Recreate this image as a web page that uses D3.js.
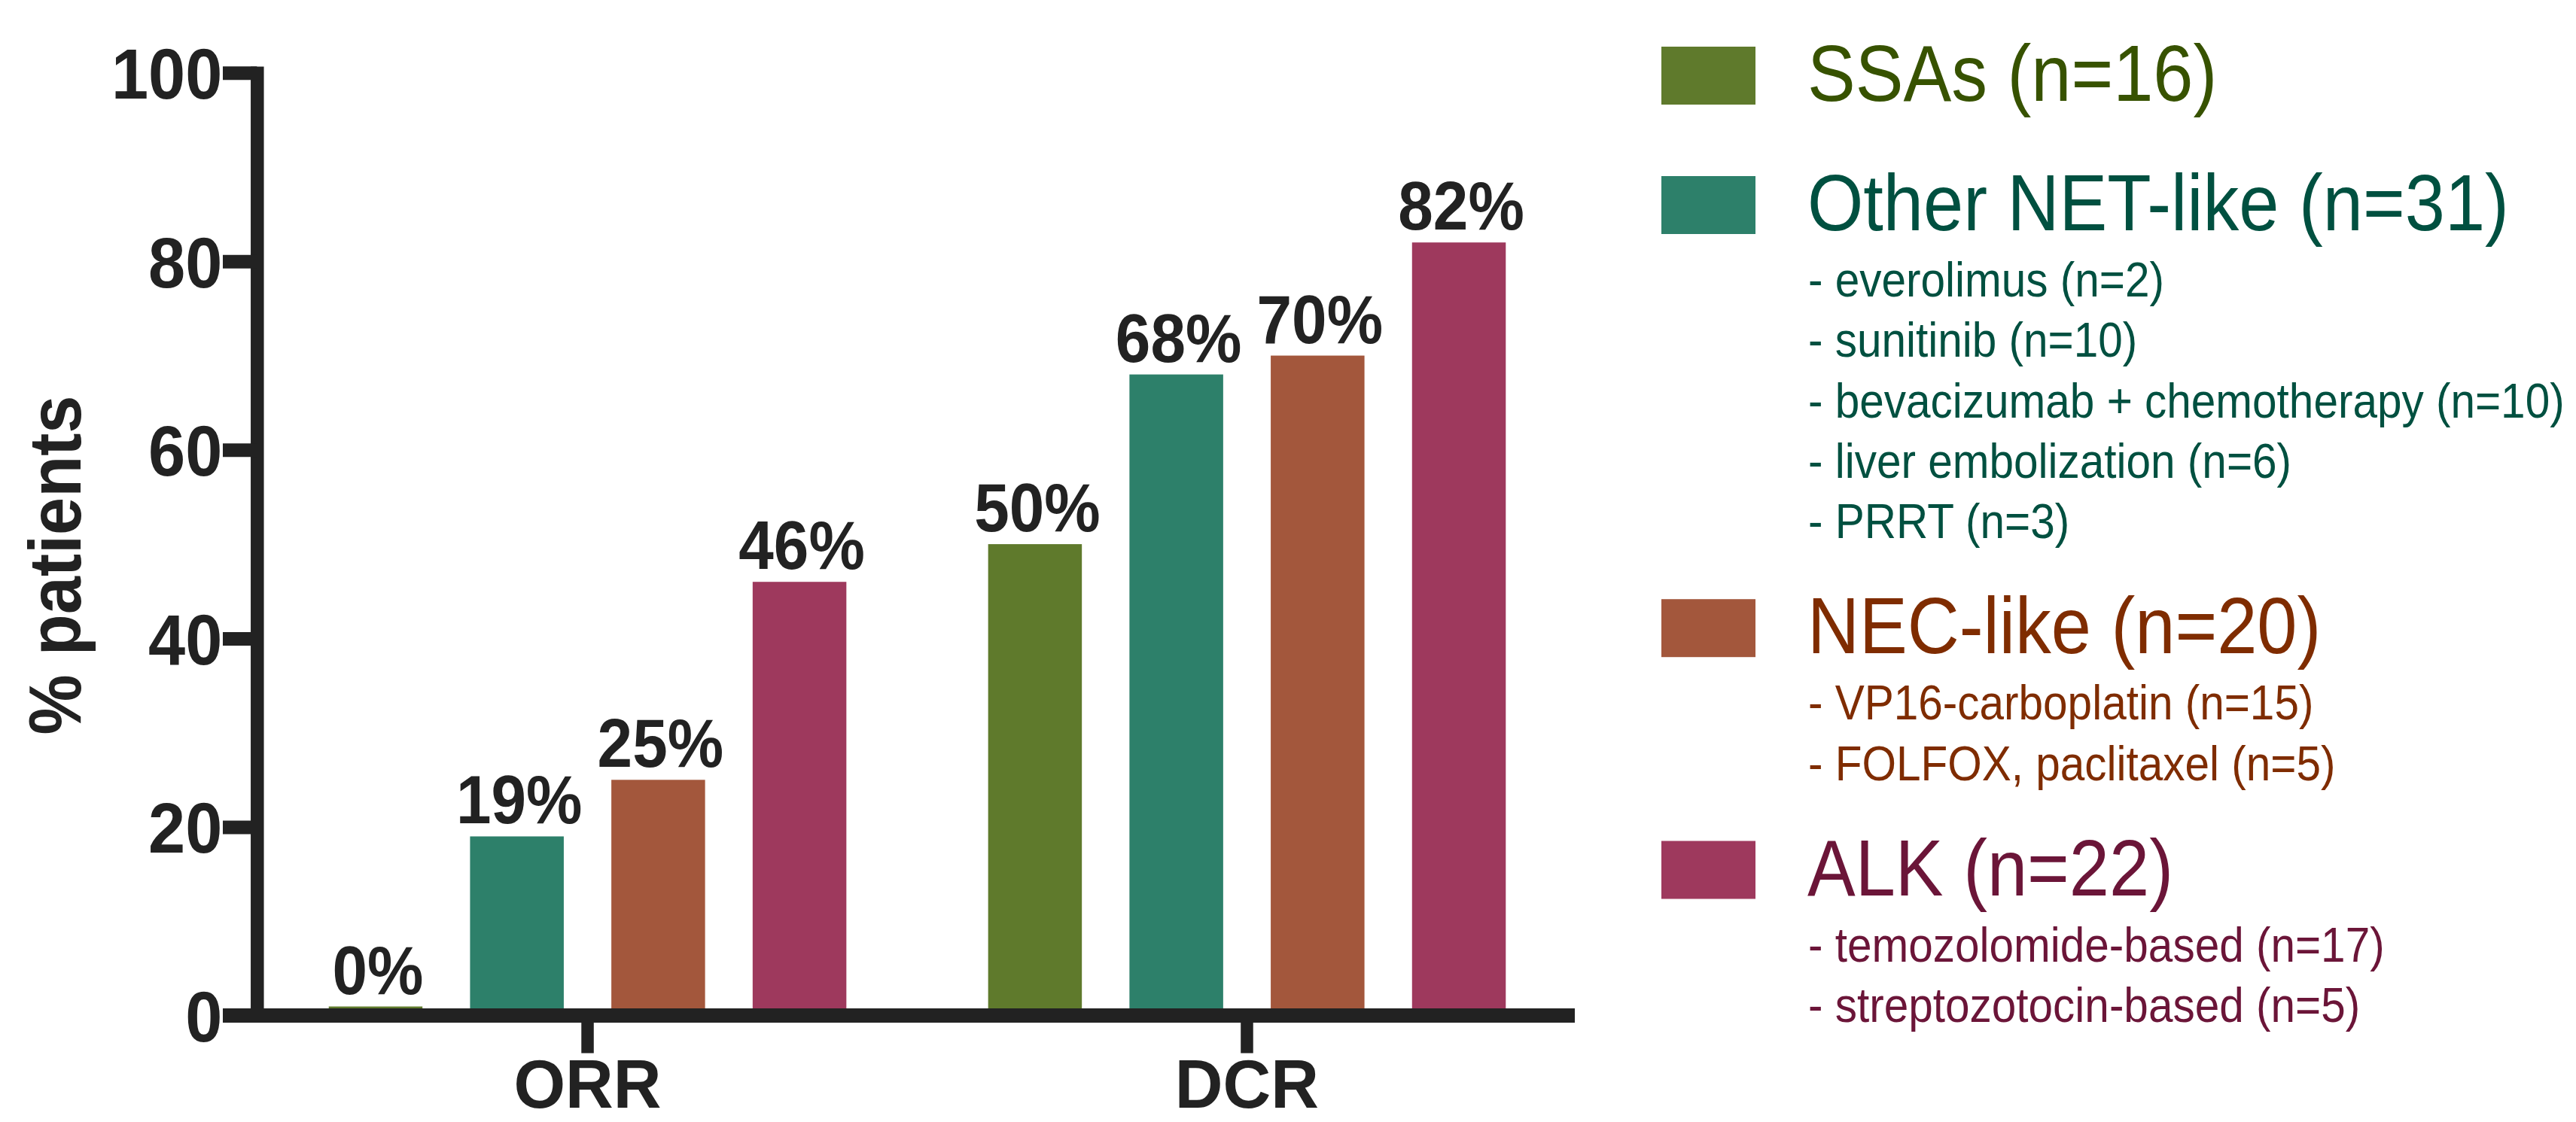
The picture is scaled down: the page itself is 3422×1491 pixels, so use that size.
<!DOCTYPE html>
<html>
<head>
<meta charset="utf-8">
<script src="https://cdn.jsdelivr.net/npm/d3@7"></script>
<style>
  html, body { margin: 0; padding: 0; background: #ffffff; }
  svg { display: block; }
  text { font-family: "Liberation Sans", Arial, Helvetica, sans-serif; }
</style>
</head>
<body>
<svg id="chart" width="3422" height="1491"></svg>
<script>
// ---------------- data ----------------
const categories = ["ORR", "DCR"];
const series = ["SSAs", "Other NET-like", "NEC-like", "ALK"];
const orrValues = [0, 19, 25, 46];
const dcrValues = [50, 68, 70, 82];
const yTicks = [0, 20, 40, 60, 80, 100];
const yLabel = "% patients";
const legendLabels = ["SSAs (n=16)", "Other NET-like (n=31)", "NEC-like (n=20)", "ALK (n=22)"];
const legendSubs = [
  [],
  ["- everolimus (n=2)", "- sunitinib (n=10)", "- bevacizumab + chemotherapy (n=10)", "- liver embolization (n=6)", "- PRRT (n=3)"],
  ["- VP16-carboplatin (n=15)", "- FOLFOX, paclitaxel (n=5)"],
  ["- temozolomide-based (n=17)", "- streptozotocin-based (n=5)"]
];
const barColors = ["#5f7a2c", "#2d806a", "#a3573c", "#9e395d"];
const legendTextColors = ["#375200", "#005040", "#7f2c00", "#6b1538"];

const valuesByCategory = { ORR: orrValues, DCR: dcrValues };
const table = categories.map(c => ({
  cat: c,
  items: series.map((s, j) => ({ cat: c, series: s, idx: j, value: valuesByCategory[c][j] }))
}));

// ---------------- layout ----------------
const W = 3422, H = 1491;
const ink = "#222222";
const yAxisX = 341.3;
const axisLeftEnd = 296;
const plotLeft = 345, plotRight = 2092;
const minBarPx = 12;

const svg = d3.select("#chart").attr("viewBox", `0 0 ${W} ${H}`);
svg.append("rect").attr("width", W).attr("height", H).attr("fill", "#ffffff");

const y = d3.scaleLinear().domain([0, 100]).range([1349.5, 96.7]);
const x0 = d3.scaleBand().domain(categories).range([plotLeft, plotRight])
  .paddingInner(0.215).paddingOuter(0.1047);
const x1 = d3.scaleBand().domain(series).range([0, x0.bandwidth()])
  .paddingInner(0.3367).paddingOuter(0);
const color = d3.scaleOrdinal().domain(series).range(barColors);

// ---------------- bars ----------------
const groups = svg.append("g").selectAll("g").data(table).join("g")
  .attr("transform", d => `translate(${x0(d.cat)},0)`);

const barTop = d => Math.min(y(d.value), y(0) - minBarPx);

groups.selectAll("rect").data(d => d.items).join("rect")
  .attr("x", d => x1(d.series))
  .attr("width", x1.bandwidth())
  .attr("y", d => barTop(d))
  .attr("height", d => y(0) - barTop(d))
  .attr("fill", d => color(d.series));

groups.selectAll("text").data(d => d.items).join("text")
  .attr("transform", d => `translate(${x1(d.series) + x1.bandwidth() / 2 + 3},${barTop(d) - 17}) scale(0.92,1)`)
  .attr("text-anchor", "middle")
  .attr("font-size", 91)
  .attr("font-weight", "bold")
  .attr("fill", ink)
  .text(d => d.value + "%");

// ---------------- y axis ----------------
const gy = svg.append("g")
  .attr("transform", `translate(${yAxisX},0)`)
  .attr("color", ink)
  .call(d3.axisLeft(y).tickValues(yTicks).tickSize(45.3).tickSizeOuter(0));
gy.select(".domain").attr("stroke-width", 17.5).attr("stroke-linecap", "square");
gy.selectAll(".tick line").attr("stroke-width", 18);
gy.selectAll(".tick text")
  .attr("x", null).attr("dy", null)
  .attr("transform", "translate(-46,34) scale(0.93,1)")
  .attr("text-anchor", "end")
  .attr("font-size", 95)
  .attr("font-weight", "bold")
  .attr("font-family", null);

// y label
svg.append("text")
  .attr("transform", "translate(107,751) rotate(-90) scale(0.92,1)")
  .attr("text-anchor", "middle")
  .attr("font-size", 98)
  .attr("font-weight", "bold")
  .attr("fill", ink)
  .text(yLabel);

// ---------------- x axis ----------------
const gx = svg.append("g")
  .attr("transform", `translate(0,${y(0)})`)
  .attr("color", ink)
  .call(d3.axisBottom(x0).tickSize(50).tickSizeOuter(0));
gx.select(".domain").remove();
gx.selectAll(".tick line").attr("stroke-width", 16.5);
gx.selectAll(".tick text")
  .attr("y", null).attr("dy", null)
  .attr("transform", "translate(0,122) scale(0.97,1)")
  .attr("font-size", 91)
  .attr("font-weight", "bold")
  .attr("font-family", null);

svg.append("line")
  .attr("x1", axisLeftEnd).attr("x2", plotRight)
  .attr("y1", y(0)).attr("y2", y(0))
  .attr("stroke", ink).attr("stroke-width", 19);

// ---------------- legend ----------------
const legendX = 2207, swatchW = 125, swatchH = 77;
const textX = 2401;
const firstBaseline = 134, gapNoSubs = 172, gapAfterSubs = 153, firstSubGap = 88, subStep = 80.3;

let cursor = firstBaseline;
const legendRows = legendLabels.map((label, i) => {
  const base = cursor;
  const subs = legendSubs[i].map((s, k) => ({ text: s, y: base + firstSubGap + k * subStep }));
  cursor = subs.length ? subs[subs.length - 1].y + gapAfterSubs : base + gapNoSubs;
  return { label, i, base, subs };
});

const lg = svg.append("g").selectAll("g").data(legendRows).join("g");
lg.append("rect")
  .attr("x", legendX).attr("y", d => d.base - 72)
  .attr("width", swatchW).attr("height", swatchH)
  .attr("fill", d => barColors[d.i]);
lg.append("text")
  .attr("transform", d => `translate(${textX},${d.base}) scale(0.91,1)`)
  .attr("font-size", 105)
  .attr("fill", d => legendTextColors[d.i])
  .text(d => d.label);
lg.each(function (d) {
  d3.select(this).selectAll("text.sub").data(d.subs).join("text")
    .attr("class", "sub")
    .attr("transform", s => `translate(${textX + 1},${s.y}) scale(0.9,1)`)
    .attr("font-size", 65)
    .attr("fill", legendTextColors[d.i])
    .text(s => s.text);
});
</script>
</body>
</html>
